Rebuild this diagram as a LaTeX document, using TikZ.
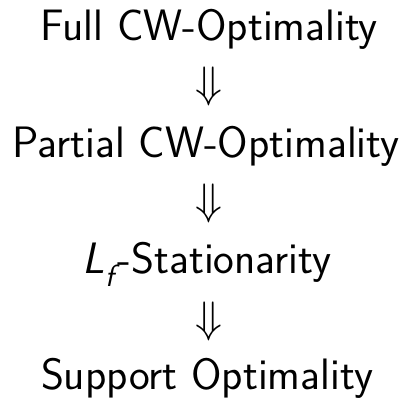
\documentclass[tikz,border=0pt]{standalone}
\usepackage{amsmath}
\begin{document}
\begin{tikzpicture}[x=1pt,y=1pt,
  lbl/.style={anchor=base,inner sep=0pt,font=\fontsize{44}{52}\selectfont\sffamily},
  arr/.style={anchor=center,inner sep=0pt,scale=4.4}]
\useasboundingbox (0,0) rectangle (413,-400);
\node[lbl] (full) at (209,-40) {Full CW-Optimality};
\node[arr] (a1) at (209,-86) {$\Downarrow$};
\node[lbl] (part) at (206,-157) {Partial CW-Optimality};
\node[arr] (a2) at (209,-203) {$\Downarrow$};
\node[lbl] (stat) at (207,-273) {$\textit{L}_{\textit{f}}$\kern3pt-Stationarity};
\node[arr] (a3) at (209,-321) {$\Downarrow$};
\node[lbl] (supp) at (207,-389) {Support Optimality};
\end{tikzpicture}
\end{document}
